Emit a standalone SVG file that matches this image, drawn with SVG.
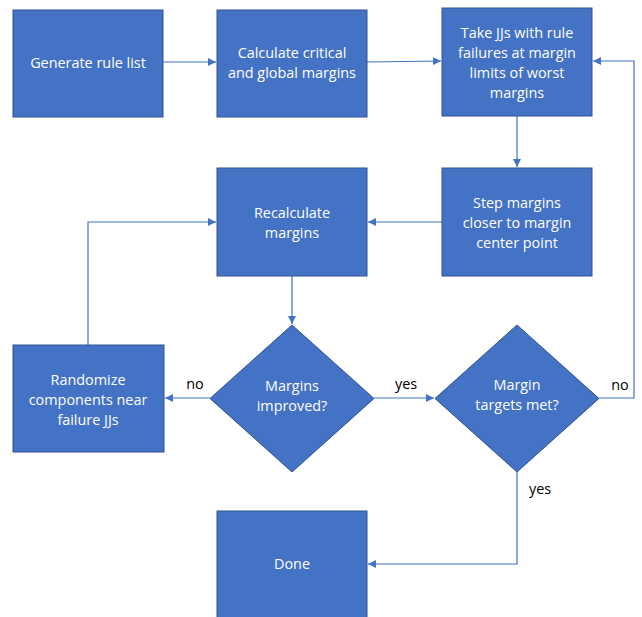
<svg xmlns="http://www.w3.org/2000/svg" width="642" height="617" viewBox="0 0 642 617">
<style>
.n{fill:#4472C4;stroke:#2F528F;stroke-width:1}
.t{fill:#fff;font-family:"Open Sans","Noto Sans",sans-serif;font-size:14.4px;text-anchor:middle}
.l{fill:#000;font-family:"Open Sans","Noto Sans",sans-serif;font-size:14.4px;text-anchor:middle}
.c{fill:none;stroke:#4472C4;stroke-width:1.2}
</style>
<defs>
<marker id="a" viewBox="0 0 10 10" refX="10" refY="5" markerWidth="8" markerHeight="8" markerUnits="userSpaceOnUse" orient="auto">
<path d="M0,0L10,5L0,10z" fill="#4472C4"/>
</marker>
</defs>
<rect width="642" height="617" fill="#fff"/>
<g id="connectors">
<path class="c" d="M163,62H216" marker-end="url(#a)"/>
<path class="c" d="M367,62L441,61" marker-end="url(#a)"/>
<path class="c" d="M517,116V167" marker-end="url(#a)"/>
<path class="c" d="M442,222H368" marker-end="url(#a)"/>
<path class="c" d="M88,345V222H216" marker-end="url(#a)"/>
<path class="c" d="M292,276V324" marker-end="url(#a)"/>
<path class="c" d="M210,398H165" marker-end="url(#a)"/>
<path class="c" d="M374,398H434" marker-end="url(#a)"/>
<path class="c" d="M599,398H634V61H593" marker-end="url(#a)"/>
<path class="c" d="M517,472V564H368" marker-end="url(#a)"/>
</g>
<g id="n1"><rect class="n" x="13" y="10" width="150" height="107"/><text class="t" x="88" y="68">Generate rule list</text></g>
<g id="n2"><rect class="n" x="217" y="10" width="150" height="107"/><text class="t" x="292" y="58">Calculate critical</text><text class="t" x="292" y="78">and global margins</text></g>
<g id="n3"><rect class="n" x="442" y="8" width="150" height="108"/><text class="t" x="517" y="38">Take JJs with rule</text><text class="t" x="517" y="58">failures at margin</text><text class="t" x="517" y="78">limits of worst</text><text class="t" x="517" y="98">margins</text></g>
<g id="n4"><rect class="n" x="217" y="168" width="150" height="108"/><text class="t" x="292" y="218">Recalculate</text><text class="t" x="292" y="238">margins</text></g>
<g id="n5"><rect class="n" x="442" y="168" width="150" height="108"/><text class="t" x="517" y="208">Step margins</text><text class="t" x="517" y="228">closer to margin</text><text class="t" x="517" y="248">center point</text></g>
<g id="n6"><rect class="n" x="13" y="345" width="151" height="107"/><text class="t" x="88" y="385">Randomize</text><text class="t" x="88" y="405">components near</text><text class="t" x="88" y="425">failure JJs</text></g>
<g id="n7"><path class="n" d="M292,325L374,398.5L292,472L210,398.5z"/><text class="t" x="292" y="391">Margins</text><text class="t" x="292" y="411">improved?</text></g>
<g id="n8"><path class="n" d="M517,325L599,398.5L517,472L435,398.5z"/><text class="t" x="517" y="390">Margin</text><text class="t" x="517" y="410">targets met?</text></g>
<g id="n9"><rect class="n" x="217" y="511" width="150" height="110"/><text class="t" x="292" y="569">Done</text></g>
<g id="labels">
<text class="l" x="195" y="389">no</text>
<text class="l" x="406" y="389">yes</text>
<text class="l" x="620" y="390">no</text>
<text class="l" x="540" y="494">yes</text>
</g>
</svg>
